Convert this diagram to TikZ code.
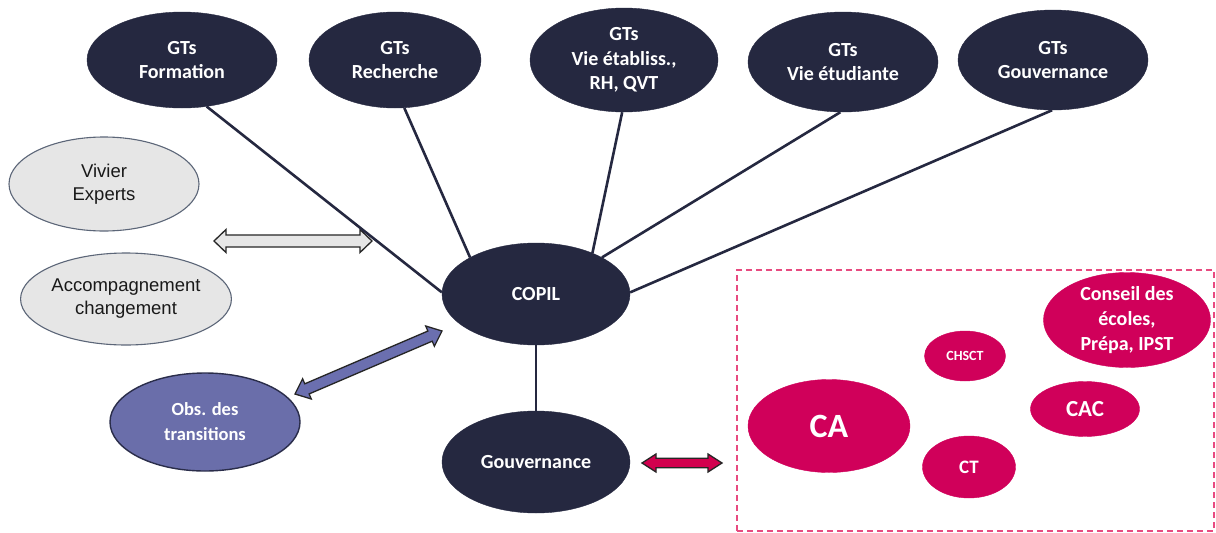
\documentclass[tikz,border=0pt]{standalone}
\usepackage{fontspec}
\setmainfont{Carlito}
\newfontfamily\arialf{Liberation Sans}
\usetikzlibrary{shapes.geometric,calc,backgrounds}
\pgfdeclarelayer{paper}
\pgfsetlayers{paper,background,main}
\definecolor{navy}{HTML}{252840}
\definecolor{grayfill}{HTML}{E6E6E6}
\definecolor{graystroke}{HTML}{5C6678}
\definecolor{obsfill}{HTML}{6A6EAA}
\definecolor{obsstroke}{HTML}{2A2D4A}
\definecolor{pinkc}{HTML}{D0005A}
\definecolor{dashc}{HTML}{E84A80}
\definecolor{arrfill}{HTML}{D2004E}
\definecolor{purparr}{HTML}{6B6FAF}
\newcommand\fatarr[6][]{%
  \draw[#1] (#2)
    -- ($($(#2)!#6!(#3)$)!#5!90:(#3)$)
    -- ($($(#2)!#6!(#3)$)!#4!90:(#3)$)
    -- ($($(#3)!#6!(#2)$)!#4!-90:(#2)$)
    -- ($($(#3)!#6!(#2)$)!#5!-90:(#2)$)
    -- (#3)
    -- ($($(#3)!#6!(#2)$)!#5!90:(#2)$)
    -- ($($(#3)!#6!(#2)$)!#4!90:(#2)$)
    -- ($($(#2)!#6!(#3)$)!#4!-90:(#3)$)
    -- ($($(#2)!#6!(#3)$)!#5!-90:(#3)$)
    -- cycle;}
\begin{document}
\begin{tikzpicture}[x=1pt,y=-1pt,
  base/.style={ellipse, inner sep=0pt, align=center},
  dark/.style={base, fill=navy, draw=navy, text=white, font=\bfseries\fontsize{20}{23.5}\selectfont},
  light/.style={base, fill=grayfill, draw=graystroke, line width=1.1pt, text=black!90, font=\arialf\fontsize{18.5}{23}\selectfont},
  obsn/.style={base, fill=obsfill, draw=obsstroke, line width=1.4pt, text=white, font=\bfseries\fontsize{18.5}{25}\selectfont},
  pinkn/.style={base, fill=pinkc, draw=pinkc, text=white},
  link/.style={draw=navy, line width=2.6pt},
  fat/.style={draw=black!85, line width=1.3pt, line join=miter}
]
\useasboundingbox (0,0) rectangle (1216,533);
\begin{pgfonlayer}{paper}
\fill[white] (0,0) rectangle (1216,533);
\end{pgfonlayer}

% top row
\node[dark, minimum width=190pt, minimum height=96pt] (form) at (182,60) {GTs\\Formation};
\node[dark, minimum width=172pt, minimum height=96pt] (rech) at (395,60) {GTs\\Recherche};
\node[dark, minimum width=188pt, minimum height=104pt, font=\bfseries\fontsize{20}{24.5}\selectfont] (vie) at (624,60) {GTs\\Vie établiss.,\\RH, QVT};
\node[dark, minimum width=190pt, minimum height=100pt] (etu) at (843,62) {GTs\\Vie étudiante};
\node[dark, minimum width=190pt, minimum height=100pt] (gouvgt) at (1053,60) {GTs\\Gouvernance};

% left column
\node[light, minimum width=190pt, minimum height=94pt] (viv) at (104,184) {Vivier\\Experts};
\node[light, minimum width=189pt, minimum height=92pt] (acc) at (126,299) {Accompagnement\\changement};
\node[obsn, minimum width=190pt, minimum height=98pt] (obs) at (205,422) {Obs. des\\transitions};

% centre
\node[dark, minimum width=188pt, minimum height=102pt] (copil) at (536,294) {COPIL};
\node[dark, minimum width=188pt, minimum height=102pt] (gouv) at (536,462) {Gouvernance};

% pink group
\node[draw=dashc, dashed, dash pattern=on 6pt off 4pt, line width=1.3pt, minimum width=477pt, minimum height=261pt, inner sep=0pt] (box) at (975.5,400.5) {};
\node[pinkn, minimum width=162pt, minimum height=93pt, font=\bfseries\fontsize{34}{40}\selectfont] (ca) at (829,426) {CA};
\node[pinkn, minimum width=81pt, minimum height=50pt, font=\bfseries\fontsize{14}{17}\selectfont] (chsct) at (965,356) {CHSCT};
\node[pinkn, minimum width=93pt, minimum height=62pt, font=\bfseries\fontsize{19}{22}\selectfont] (ct) at (969,467) {CT};
\node[pinkn, minimum width=109pt, minimum height=55pt, font=\bfseries\fontsize{23}{26}\selectfont] (cac) at (1085,409) {CAC};
\node[pinkn, minimum width=167pt, minimum height=90pt, font=\bfseries\fontsize{20}{25}\selectfont] (cons) at (1127,320) {Conseil des\\écoles,\\Prépa, IPST};

% arrows end points
\coordinate (ga1) at (214,241);
\coordinate (ga2) at (372,241);
\coordinate (pa1) at (295,394);
\coordinate (pa2) at (442,331);
\coordinate (ra1) at (642,463);
\coordinate (ra2) at (722,463);

\begin{scope}[on background layer]
  \fatarr[fat, fill=grayfill]{ga1}{ga2}{6pt}{11.5pt}{12pt}
  \draw[link] (form.-62) -- (copil.179);
  \draw[link] (rech.-79) -- (copil.151);
  \draw[link] (vie.-92) -- (copil.36);
  \draw[link] (etu.-93) -- (copil.29);
  \draw[link] (gouvgt.-91) -- (copil.1);
  \draw[link] (copil.south) -- (gouv.north);
\end{scope}

\fatarr[fat, fill=purparr]{pa1}{pa2}{5.5pt}{11pt}{13pt}
\fatarr[fat, fill=arrfill]{ra1}{ra2}{4.8pt}{9pt}{14pt}
\end{tikzpicture}
\end{document}
